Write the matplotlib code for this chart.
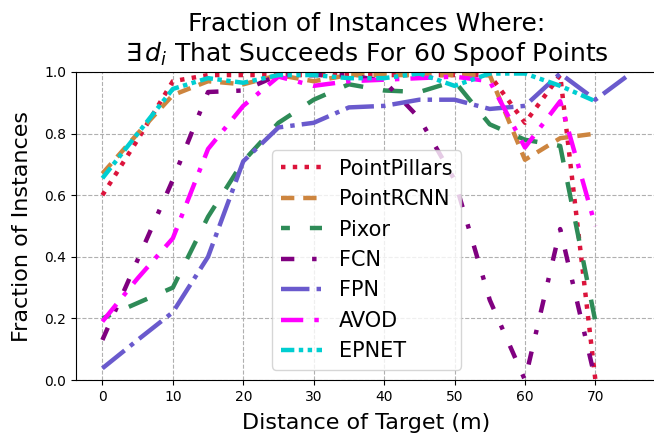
import matplotlib
matplotlib.use("Agg")
import matplotlib.pyplot as plt


# Distances (m) sampled every 5 m
distances = [0, 5, 10, 15, 20, 25, 30, 35, 40, 45, 50, 55, 60, 65, 70]
fpn_distances = distances + [75]

# Fraction of instances per model
point_pillars = [0.60, 0.78, 0.97, 0.99, 0.99, 0.99, 0.99, 0.99, 0.99, 0.99, 0.99, 0.99, 0.835, 0.99, 0.0]
point_rcnn = [0.67, 0.80, 0.925, 0.97, 0.96, 0.99, 0.97, 0.99, 0.99, 0.99, 0.99, 0.99, 0.715, 0.785, 0.80]
pixor = [0.20, 0.25, 0.30, 0.53, 0.71, 0.835, 0.91, 0.96, 0.94, 0.935, 0.97, 0.83, 0.78, 0.76, 0.19]
fcn = [0.13, 0.39, 0.65, 0.935, 0.94, 0.99, 0.99, 0.99, 0.97, 0.85, 0.65, 0.26, 0.0, 0.49, 0.0]
fpn = [0.038, 0.13, 0.22, 0.40, 0.71, 0.82, 0.835, 0.885, 0.89, 0.91, 0.91, 0.88, 0.89, 0.995, 0.91, 0.995]
avod = [0.19, 0.33, 0.46, 0.75, 0.89, 0.985, 0.955, 0.97, 0.975, 0.98, 0.985, 0.97, 0.755, 0.905, 0.50]
epnet = [0.655, 0.80, 0.945, 0.98, 0.965, 0.99, 0.99, 0.98, 0.98, 0.995, 0.955, 0.995, 0.995, 0.955, 0.905]

x_ticks = [0, 10, 20, 30, 40, 50, 60, 70]
y_ticks = [0.0, 0.2, 0.4, 0.6, 0.8, 1.0]


def main():
    fig = plt.figure(figsize=(6.54, 4.36), dpi=100)
    # the axes run a bit past the right edge, like the cropped original
    ax = fig.add_axes([0.1162, 0.1284, 0.8884, 0.7065])

    lw = 3.2
    ax.plot(distances, point_pillars, color="crimson", linestyle=":", linewidth=lw, label="PointPillars")
    ax.plot(distances, point_rcnn, color="peru", linestyle=(0, (3, 2)), linewidth=lw, label="PointRCNN")
    ax.plot(distances, pixor, color="seagreen", linestyle=(2.5, (4.5, 4.5)), linewidth=lw, label="Pixor")
    ax.plot(distances, fcn, color="purple", linestyle=(0, (3, 4, 1, 4)), linewidth=lw, label="FCN")
    ax.plot(fpn_distances, fpn, color="slateblue", linestyle="-.", linewidth=lw, label="FPN")
    ax.plot(distances, avod, color="magenta", linestyle=(0, (5, 2.5, 1, 2.5)), linewidth=lw, label="AVOD")
    ax.plot(distances, epnet, color="darkturquoise", linestyle=(0, (3, 1, 1, 1, 1, 1)), linewidth=lw, label="EPNET")

    ax.set_ylim(0, 1)
    ax.set_xticks(x_ticks)
    ax.set_yticks(y_ticks)
    ax.tick_params(labelsize=10)
    ax.grid(True, linestyle="--")

    ax.set_title("Fraction of Instances Where:\n$\\exists\\, d_i$ That Succeeds For 60 Spoof Points",
                 fontsize=18, pad=8)
    ax.set_xlabel("Distance of Target (m)", fontsize=16, labelpad=7)
    ax.set_ylabel("Fraction of Instances", fontsize=16, labelpad=9)
    ax.legend(loc="lower center", fontsize=15)

    fig.savefig("out.png", dpi=100)


if __name__ == "__main__":
    main()
